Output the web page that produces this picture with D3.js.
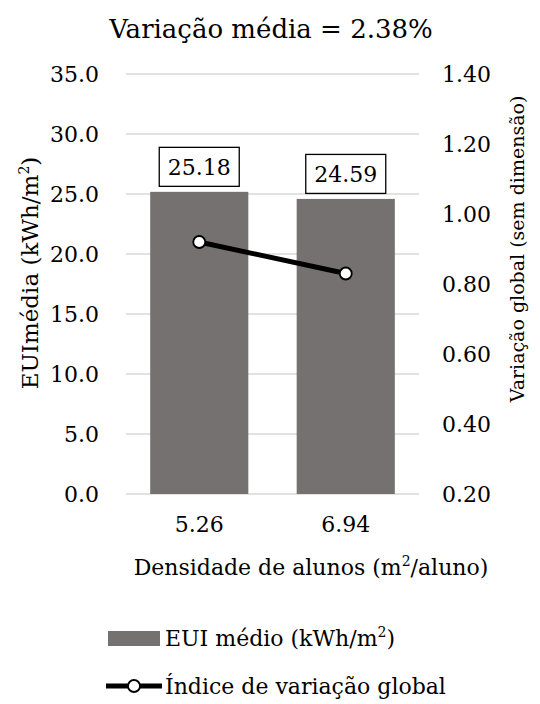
<!DOCTYPE html>
<html>
<head>
<meta charset="utf-8">
<script src="https://cdn.jsdelivr.net/npm/d3@7"></script>
<style>
  body { margin: 0; background: #fff; }
  text { font-family: "DejaVu Serif", serif; fill: #000; }
</style>
</head>
<body>
<svg width="540" height="704"></svg>
<script>
// data
const categories = ["5.26", "6.94"];
const euiValues = [25.18, 24.59];
const indexValues = [0.92, 0.83];
const leftTicks = [0, 5, 10, 15, 20, 25, 30, 35];
const rightTicks = [0.2, 0.4, 0.6, 0.8, 1.0, 1.2, 1.4];

const title = "Variação média = 2.38%";

let svg = d3.select("svg");

// plot area
const plotLeft = 126, plotRight = 419, plotTop = 74, plotBottom = 494;
const barColor = "#767171";
const fs = "22px";

let x = d3.scaleBand()
    .domain(categories)
    .range([plotLeft, plotRight])
    .paddingInner(0.33)
    .paddingOuter(0.165);

let y = d3.scaleLinear().domain([0, 35]).range([plotBottom, plotTop]);
let y2 = d3.scaleLinear().domain([0.2, 1.4]).range([plotBottom, plotTop]);

// gridlines
svg.append("g")
    .selectAll("line")
    .data(leftTicks)
    .enter()
    .append("line")
    .attr("x1", plotLeft).attr("x2", plotRight)
    .attr("y1", d => y(d)).attr("y2", d => y(d))
    .attr("stroke", "#d9d9d9")
    .attr("stroke-width", 1.5);

// left axis
let yAxis = svg.append("g")
    .attr("transform", `translate(${plotLeft - 27},0)`)
    .call(d3.axisLeft(y).tickValues(leftTicks).tickFormat(d3.format(".1f")).tickSize(0));
yAxis.select(".domain").remove();
yAxis.selectAll("text").style("font-size", fs).attr("font-family", null).attr("x", 0);

// right axis
let y2Axis = svg.append("g")
    .attr("transform", `translate(${plotRight + 23},0)`)
    .call(d3.axisRight(y2).tickValues(rightTicks).tickFormat(d3.format(".2f")).tickSize(0));
y2Axis.select(".domain").remove();
y2Axis.selectAll("text").style("font-size", fs).attr("font-family", null).attr("x", 0);

// x axis
let xAxis = svg.append("g")
    .attr("transform", `translate(0,${plotBottom + 19})`)
    .call(d3.axisBottom(x).tickSize(0));
xAxis.select(".domain").remove();
xAxis.selectAll("text").style("font-size", fs).attr("font-family", null);

// bars
svg.append("g")
    .selectAll("rect")
    .data(euiValues)
    .enter()
    .append("rect")
    .attr("x", (d, i) => x(categories[i]))
    .attr("width", x.bandwidth())
    .attr("y", d => y(d))
    .attr("height", d => y(0) - y(d))
    .attr("fill", barColor);

// data labels with box
let labels = svg.append("g")
    .selectAll("g")
    .data(euiValues)
    .enter()
    .append("g")
    .attr("transform", (d, i) => `translate(${x(categories[i]) + x.bandwidth() / 2},${y(d) - 25})`);
labels.append("rect")
    .attr("x", -40).attr("y", -19.5)
    .attr("width", 80).attr("height", 39)
    .attr("fill", "#fff")
    .attr("stroke", "#000")
    .attr("stroke-width", 1.3);
labels.append("text")
    .attr("text-anchor", "middle")
    .attr("dy", "0.36em")
    .style("font-size", fs)
    .text(d => d.toFixed(2));

// line
let line = d3.line()
    .x((d, i) => x(categories[i]) + x.bandwidth() / 2)
    .y(d => y2(d));
svg.append("path")
    .datum(indexValues)
    .attr("d", line)
    .attr("fill", "none")
    .attr("stroke", "#000")
    .attr("stroke-width", 5);
svg.append("g")
    .selectAll("circle")
    .data(indexValues)
    .enter()
    .append("circle")
    .attr("cx", (d, i) => x(categories[i]) + x.bandwidth() / 2)
    .attr("cy", d => y2(d))
    .attr("r", 6)
    .attr("fill", "#fff")
    .attr("stroke", "#000")
    .attr("stroke-width", 1.8);

// title
svg.append("text")
    .attr("x", 271).attr("y", 38)
    .attr("text-anchor", "middle")
    .style("font-size", "26px")
    .text(title);

// axis titles
svg.append("text")
    .attr("transform", "translate(30,273) rotate(-90)")
    .attr("text-anchor", "middle")
    .attr("dy", "0.35em")
    .style("font-size", "23px")
    .html('EUImédia (kWh/m<tspan dy="-9" font-size="14px">2</tspan><tspan dy="9">)</tspan>');

svg.append("text")
    .attr("transform", "translate(517,249) rotate(-90)")
    .attr("text-anchor", "middle")
    .attr("dy", "0.35em")
    .style("font-size", "19px")
    .text("Variação global (sem dimensão)");

svg.append("text")
    .attr("x", 311).attr("y", 575)
    .attr("text-anchor", "middle")
    .style("font-size", fs)
    .html('Densidade de alunos (m<tspan dy="-9" font-size="14px">2</tspan><tspan dy="9">/aluno)</tspan>');

// legend
let legend = svg.append("g");
legend.append("rect")
    .attr("x", 108).attr("y", 631)
    .attr("width", 52).attr("height", 15)
    .attr("fill", barColor);
legend.append("text")
    .attr("x", 165).attr("y", 646)
    .style("font-size", fs)
    .html('EUI médio (kWh/m<tspan dy="-9" font-size="14px">2</tspan><tspan dy="9">)</tspan>');

legend.append("line")
    .attr("x1", 106).attr("x2", 162)
    .attr("y1", 686).attr("y2", 686)
    .attr("stroke", "#000")
    .attr("stroke-width", 5);
legend.append("circle")
    .attr("cx", 134).attr("cy", 686)
    .attr("r", 6)
    .attr("fill", "#fff")
    .attr("stroke", "#000")
    .attr("stroke-width", 1.8);
legend.append("text")
    .attr("x", 165).attr("y", 694)
    .style("font-size", fs)
    .text("Índice de variação global");
</script>
</body>
</html>
